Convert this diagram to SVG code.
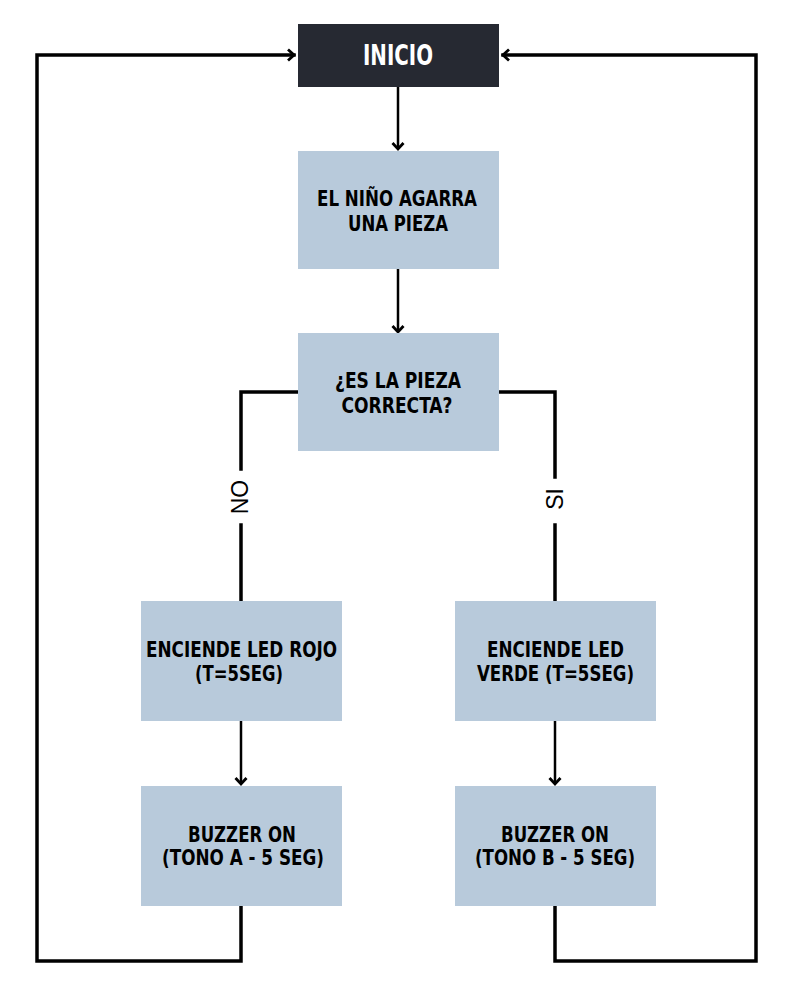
<svg xmlns="http://www.w3.org/2000/svg" width="812" height="988" viewBox="0 0 812 988">
<style>
.box{fill:#b8cadb}
.start{fill:#262932}
.t{font-family:"DejaVu Sans Condensed","DejaVu Sans","Liberation Sans",sans-serif;font-weight:bold;font-stretch:condensed;font-size:21px;fill:#000000;text-anchor:middle}
.ti{font-size:29px;fill:#ffffff}
.line{fill:none;stroke:#000000;stroke-width:3.5;stroke-linejoin:miter;stroke-linecap:square}
.arr{fill:none;stroke:#000000;stroke-width:2.5}
.lbl{font-family:"Liberation Sans",Arial,sans-serif;font-size:23px;fill:#000000;text-anchor:middle}
</style>
<defs>
<marker id="ah" markerUnits="userSpaceOnUse" markerWidth="14" markerHeight="14" refX="9" refY="7" orient="auto">
<path d="M3,1.5 L9,7 L3,12.5" fill="none" stroke="#000000" stroke-width="2.8"/>
</marker>
</defs>
<rect width="812" height="988" fill="#ffffff"/>
<g id="connectors">
<line class="arr" x1="398" y1="87" x2="398" y2="149" marker-end="url(#ah)"/>
<line class="arr" x1="398" y1="269" x2="398" y2="332" marker-end="url(#ah)"/>
<polyline class="line" points="298,392 241,392 241,469"/>
<line class="line" x1="241" y1="525" x2="241" y2="600"/>
<polyline class="line" points="499,392 555,392 555,477"/>
<line class="line" x1="555" y1="525" x2="555" y2="600"/>
<line class="arr" x1="241" y1="721" x2="241" y2="784" marker-end="url(#ah)"/>
<line class="arr" x1="555" y1="721" x2="555" y2="784" marker-end="url(#ah)"/>
<polyline class="line" points="241,907 241,961 37,961 37,55 294,55" marker-end="url(#ah)"/>
<polyline class="line" points="555,907 555,961 756,961 756,55 503,55" marker-end="url(#ah)"/>
<text class="lbl" transform="translate(248,497) rotate(-90)">NO</text>
<text class="lbl" transform="translate(563,499) rotate(-90)">SI</text>
</g>
<g id="inicio">
<rect class="start" x="298" y="24" width="201" height="63"/>
<text class="t ti" x="398" y="65" textLength="70" lengthAdjust="spacingAndGlyphs">INICIO</text>
</g>
<g id="agarra">
<rect class="box" x="298" y="151" width="201" height="118"/>
<text class="t" x="397" y="206" textLength="160" lengthAdjust="spacingAndGlyphs">EL NIÑO AGARRA</text>
<text class="t" x="398" y="231" textLength="100" lengthAdjust="spacingAndGlyphs">UNA PIEZA</text>
</g>
<g id="decision">
<rect class="box" x="298" y="333" width="201" height="118"/>
<text class="t" x="398" y="388" textLength="126" lengthAdjust="spacingAndGlyphs">¿ES LA PIEZA</text>
<text class="t" x="397" y="413" textLength="111" lengthAdjust="spacingAndGlyphs">CORRECTA?</text>
</g>
<g id="led-rojo">
<rect class="box" x="141" y="601" width="201" height="120"/>
<text class="t" x="241.5" y="657" textLength="191" lengthAdjust="spacingAndGlyphs">ENCIENDE LED ROJO</text>
<text class="t" x="239" y="681" textLength="88" lengthAdjust="spacingAndGlyphs">(T=5SEG)</text>
</g>
<g id="led-verde">
<rect class="box" x="455" y="601" width="201" height="120"/>
<text class="t" x="555.5" y="657" textLength="137" lengthAdjust="spacingAndGlyphs">ENCIENDE LED</text>
<text class="t" x="555.5" y="681" textLength="157" lengthAdjust="spacingAndGlyphs">VERDE (T=5SEG)</text>
</g>
<g id="buzzer-a">
<rect class="box" x="141" y="786" width="201" height="120"/>
<text class="t" x="242" y="842" textLength="108" lengthAdjust="spacingAndGlyphs">BUZZER ON</text>
<text class="t" x="243" y="865" textLength="162" lengthAdjust="spacingAndGlyphs">(TONO A - 5 SEG)</text>
</g>
<g id="buzzer-b">
<rect class="box" x="455" y="786" width="201" height="120"/>
<text class="t" x="555" y="842" textLength="108" lengthAdjust="spacingAndGlyphs">BUZZER ON</text>
<text class="t" x="555" y="865" textLength="160" lengthAdjust="spacingAndGlyphs">(TONO B - 5 SEG)</text>
</g>
</svg>
